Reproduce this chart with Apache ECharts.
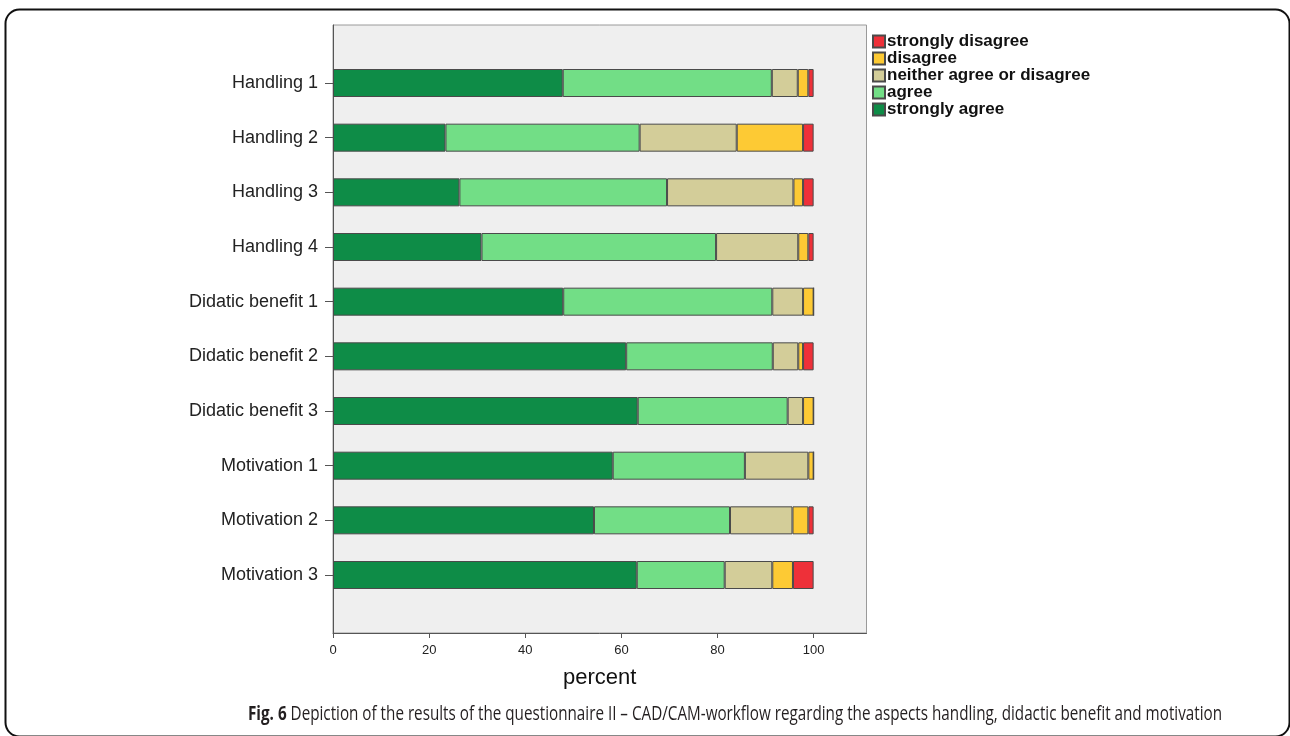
<!DOCTYPE html>
<html>
<head>
<meta charset="utf-8">
<script src="https://cdn.jsdelivr.net/npm/echarts@6/dist/echarts.min.js"></script>
<style>
html,body{margin:0;padding:0;background:#fff;}
#chart{width:1290px;height:736px;}
</style>
</head>
<body>
<div id="chart"></div>
<script>
const categories = ['Handling 1','Handling 2','Handling 3','Handling 4','Didatic benefit 1','Didatic benefit 2','Didatic benefit 3','Motivation 1','Motivation 2','Motivation 3'];
const stronglyAgree    = [47.8, 23.4, 26.3, 30.9, 47.9, 61.0, 63.4, 58.2, 54.3, 63.2];
const agree            = [43.5, 40.4, 43.2, 48.8, 43.5, 30.5, 31.2, 27.5, 28.3, 18.3];
const neither          = [5.4, 20.2, 26.3, 17.1, 6.4, 5.3, 3.2, 13.2, 13.0, 9.9];
const disagree         = [2.2, 13.8, 2.0, 2.1, 2.2, 1.0, 2.2, 1.1, 3.3, 4.3];
const stronglyDisagree = [1.1, 2.2, 2.2, 1.1, 0, 2.2, 0, 0, 1.1, 4.3];
const xTicks = [0, 20, 40, 60, 80, 100];

const captionBold = 'Fig. 6';
const captionRest = ' Depiction of the results of the questionnaire II – CAD/CAM-workflow regarding the aspects handling, didactic benefit and motivation';

const chart = echarts.init(document.getElementById('chart'));
const FONT = '"Liberation Sans", Arial, sans-serif';
const CAPFONT = '"Open Sans", sans-serif';
const CAPSIZE = 20;

// measure caption to compress it horizontally (condensed look)
const cv = document.createElement('canvas').getContext('2d');
cv.font = 'bold ' + CAPSIZE + 'px ' + CAPFONT;
let capW = cv.measureText(captionBold).width;
cv.font = CAPSIZE + 'px ' + CAPFONT;
capW += cv.measureText(captionRest).width;
const capScale = 974 / capW;

const mk = (name, data, color) => ({
  name, type: 'bar', stack: 'all', xAxisIndex: 1, yAxisIndex: 1,
  barWidth: 28, data, itemStyle: {color, borderColor: '#4a4a4a', borderWidth: 1},
  emphasis: {disabled: true}
});
chart.setOption({
  animation: false,
  backgroundColor: '#ffffff',
  textStyle: {fontFamily: FONT},
  grid: [
    {left: 333, top: 25, width: 533.5, height: 608, show: true, backgroundColor: '#efefef', borderColor: '#9a9a9a', borderWidth: 1},
    {left: 333, top: 55.67, width: 533.5, height: 546.67}
  ],
  xAxis: [
    {type: 'value', gridIndex: 0, min: 0, max: 111, interval: 20,
     axisLine: {show: true, lineStyle: {color: '#555', width: 1}},
     axisTick: {show: true, length: 5, lineStyle: {color: '#555'}},
     axisLabel: {showMaxLabel: false, color: '#222', fontSize: 13, margin: 11,
       formatter: v => xTicks.indexOf(v) >= 0 ? String(v) : ''},
     splitLine: {show: false},
     name: 'percent', nameLocation: 'middle', nameGap: 34,
     nameTextStyle: {fontSize: 22, color: '#111'}},
    {type: 'value', gridIndex: 1, min: 0, max: 111, show: false}
  ],
  yAxis: [
    {type: 'value', gridIndex: 0, min: 0, max: 1,
     axisLine: {show: true, lineStyle: {color: '#555', width: 1}},
     axisTick: {show: false}, axisLabel: {show: false}, splitLine: {show: false}},
    {type: 'category', gridIndex: 1, inverse: true, data: categories,
     axisLine: {show: false},
     axisTick: {show: true, length: 8, alignWithLabel: true, lineStyle: {color: '#555'}},
     axisLabel: {color: '#222', fontSize: 18, margin: 15}}
  ],
  legend: {
    orient: 'vertical', left: 867, top: 28, itemWidth: 12, itemHeight: 12, itemGap: 0,
    icon: 'rect',
    data: ['strongly disagree','disagree','neither agree or disagree','agree','strongly agree'],
    textStyle: {fontSize: 17, fontWeight: 'bold', color: '#111', lineHeight: 17, padding: [0,0,0,-3]}
  },
  series: [
    mk('strongly agree', stronglyAgree, '#0e8c47'),
    mk('agree', agree, '#72de86'),
    mk('neither agree or disagree', neither, '#d3cd99'),
    mk('disagree', disagree, '#fdca34'),
    mk('strongly disagree', stronglyDisagree, '#ee3039')
  ],
  graphic: [
    {type: 'rect', left: 3, top: 7, shape: {width: 1284, height: 727, r: 14},
     style: {fill: 'none', stroke: '#111', lineWidth: 2}, silent: true},
    {type: 'text', x: 248, y: 704, scaleX: capScale, originX: 0,
     style: {text: '{b|' + captionBold + '}' + captionRest,
       fontFamily: CAPFONT, fontSize: CAPSIZE, fill: '#231f20',
       rich: {b: {fontWeight: 'bold', fontFamily: CAPFONT, fontSize: CAPSIZE, fill: '#231f20'}}}}
  ]
});
</script>
</body>
</html>
